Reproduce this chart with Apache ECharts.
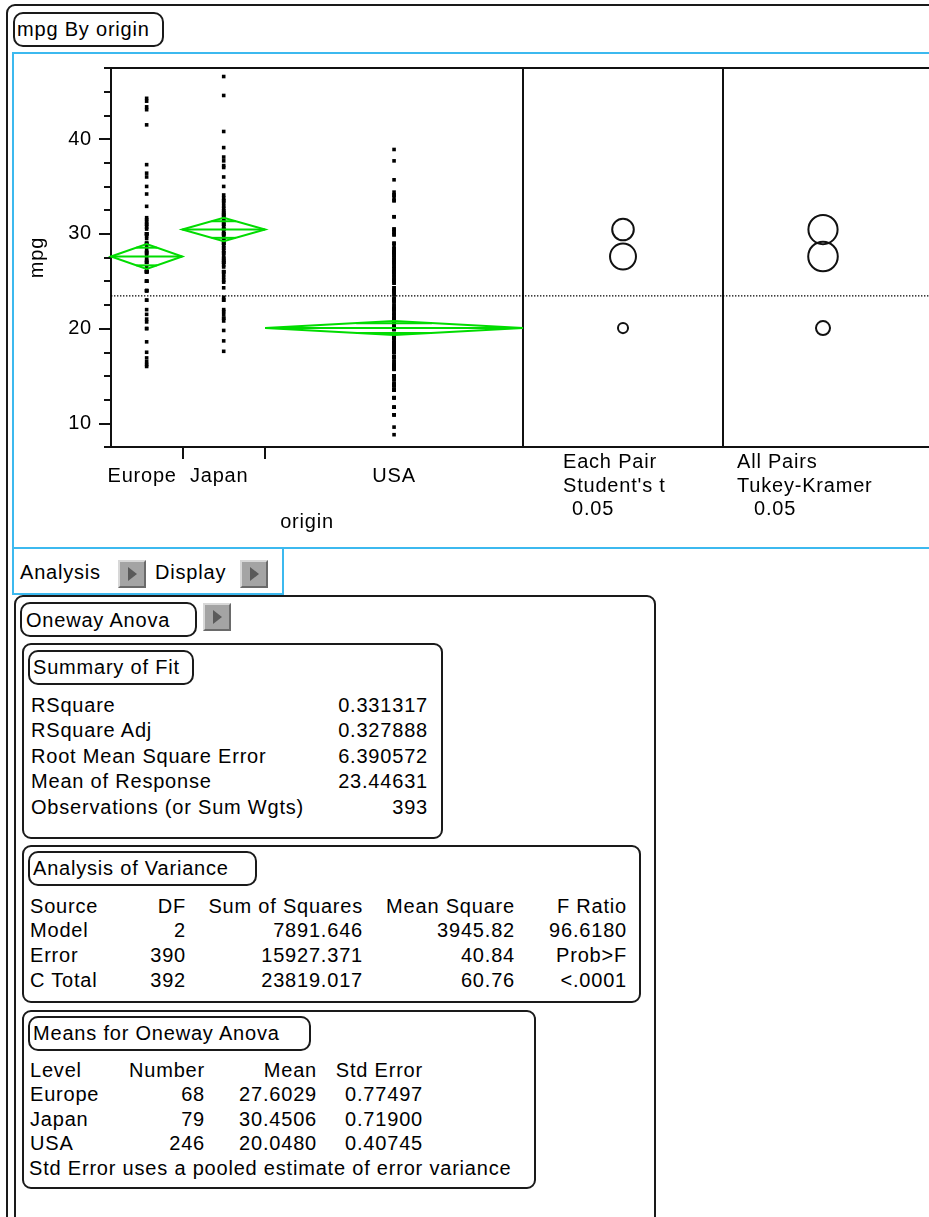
<!DOCTYPE html>
<html>
<head>
<meta charset="utf-8">
<title>mpg By origin</title>
<script src="https://cdn.jsdelivr.net/npm/echarts@6.0.0/dist/echarts.min.js"></script>
<style>
html,body{margin:0;padding:0;background:#fff;}
body{width:929px;height:1217px;overflow:hidden;position:relative;font-family:"Liberation Sans",Arial,sans-serif;font-size:20px;letter-spacing:0.8px;color:#000;}
.frame{position:absolute;box-sizing:border-box;border:2px solid #1a1a1a;border-radius:9px;}
.pill{position:absolute;box-sizing:border-box;border:2px solid #1a1a1a;border-radius:10px;}
.blue{position:absolute;box-sizing:border-box;border:2px solid #3cb9ef;}
.t{position:absolute;white-space:nowrap;line-height:28px;height:28px;}
.btn{position:absolute;box-sizing:border-box;width:28px;height:28px;background:#a4a4a4;border-top:2px solid #d8d8d8;border-left:2px solid #d8d8d8;border-right:2px solid #6a6a6a;border-bottom:2px solid #6a6a6a;}
.btn::after{content:"";position:absolute;left:8px;top:5px;border-left:9px solid #5a5a5a;border-top:7px solid transparent;border-bottom:7px solid transparent;}
#chart{position:absolute;left:0;top:0;width:945px;height:545px;}
</style>
</head>
<body>
<div class="frame" style="left:6px;top:4px;width:980px;height:1280px;"></div>
<div class="pill" style="left:13px;top:12px;width:151px;height:35px;"></div>
<div class="blue" style="left:12px;top:52px;width:960px;height:497px;"></div>
<div class="blue" style="left:12px;top:547px;width:272px;height:48px;"></div>
<div class="btn" style="left:118px;top:560px;"></div>
<div class="btn" style="left:240px;top:560px;"></div>
<div class="frame" style="left:14px;top:595px;width:642px;height:700px;"></div>
<div class="pill" style="left:20px;top:602px;width:177px;height:35px;"></div>
<div class="btn" style="left:203px;top:603px;"></div>
<div class="frame" style="left:22px;top:643px;width:421px;height:196px;"></div>
<div class="pill" style="left:28px;top:650px;width:166px;height:35px;"></div>
<div class="frame" style="left:22px;top:845px;width:619px;height:158px;"></div>
<div class="pill" style="left:28px;top:851px;width:229px;height:35px;"></div>
<div class="frame" style="left:22px;top:1010px;width:514px;height:179px;"></div>
<div class="pill" style="left:28px;top:1016px;width:283px;height:35px;"></div>
<div id="report"></div>
<div id="chart"></div>
<script>
// ---------------- data ----------------
const categories = ['Europe', 'Japan', 'USA'];
const groupN = [68, 79, 246];
const groupMean = [27.6029, 30.4506, 20.0480];
const diamondHalf = [1.32, 1.24, 0.74];
const studentRadius = [1.37, 1.14, 0.53];
const tukeyRadius = [1.56, 1.54, 0.74];
const grandMean = 23.44631;
const yMajorTicks = [10, 20, 30, 40];

const europeMpg = [44.3, 44.0, 43.4, 43.1, 41.5, 37.3, 36.4, 36.0, 35.0, 34.2,
  32.9, 31.7, 31.5, 31.3, 31.0, 30.7, 30.5, 30.0, 30.0, 29.8,
  29.5, 29.0, 29.0, 28.8, 28.4, 28.1, 28.0, 27.7, 27.4, 27.2,
  27.0, 26.5, 26.2, 26.0, 26.0, 26.0, 25.0, 25.0, 24.0, 24.0,
  23.0, 23.0, 22.0, 21.5, 21.0, 20.7, 20.0, 20.0, 18.6, 17.5,
  16.9, 16.5, 16.2, 16.0, 26.0, 26.0, 25.0, 24.0, 29.0, 30.0,
  31.0, 28.0, 27.0, 27.0, 26.0, 30.0, 24.0, 25.0];

const japanMpg = [46.6, 44.6, 40.8, 39.1, 38.1, 37.7, 37.2, 37.0, 36.0, 35.0,
  34.1, 33.8, 33.5, 33.2, 32.9, 32.7, 32.4, 32.2, 32.0, 31.8,
  31.5, 31.3, 31.0, 30.7, 30.5, 30.2, 30.0, 29.8, 29.5, 29.3,
  29.0, 28.8, 28.5, 28.2, 28.0, 27.7, 27.4, 27.2, 27.0, 26.7,
  26.5, 26.0, 25.7, 25.4, 25.1, 24.9, 24.3, 23.3, 23.0, 22.0,
  21.8, 21.5, 21.1, 20.8, 19.8, 18.7, 17.6, 32.0, 31.0, 30.0,
  29.0, 28.0, 27.0, 26.0, 32.0, 31.0, 30.0, 29.0, 27.0, 33.5,
  32.4, 31.6, 30.5, 29.5, 28.5, 27.4, 26.0, 23.0, 21.1];

const usaMpg = [38.9, 37.7, 35.7, 34.4, 34.1, 33.8, 33.5, 31.8, 30.5, 30.2,
  29.9, 29.0, 28.7, 28.4, 28.1, 27.8, 27.5, 27.2, 26.9, 26.6,
  26.3, 26.0, 25.7, 25.4, 25.1, 24.8, 24.3, 24.0, 23.9, 23.6,
  23.2, 23.0, 22.8, 22.4, 22.1, 22.0, 21.6, 21.4, 21.1, 21.0,
  20.8, 20.5, 20.2, 20.0, 19.9, 19.4, 19.2, 19.1, 19.0, 18.6,
  18.5, 18.2, 18.1, 18.0, 17.7, 17.6, 17.5, 17.1, 17.0, 16.9,
  16.5, 16.2, 16.0, 15.8, 15.7, 15.0, 14.6, 14.2, 14.0, 13.5,
  12.7, 11.7, 10.9, 9.6, 8.8, 18.0, 18.0, 18.0, 18.0, 18.0,
  19.0, 19.0, 19.0, 19.0, 20.0, 20.0, 20.0, 20.0, 20.0, 21.0,
  21.0, 21.0, 22.0, 22.0, 22.0, 23.0, 23.0, 24.0, 24.0, 25.0,
  25.0, 26.0, 26.0, 27.0, 27.0, 28.0, 28.0, 29.0, 17.0, 17.0,
  16.0, 16.0, 16.0, 16.0, 15.0, 15.0, 15.0, 15.0, 15.0, 14.0,
  14.0, 14.0, 14.0, 14.0, 13.5, 13.5, 13.5, 13.5, 13.5, 12.7,
  12.7, 12.7, 11.7, 11.7, 10.9, 10.9, 14.6, 14.2, 15.8, 16.5,
  18.5, 18.1, 18.2, 19.2, 19.4, 17.5, 17.6, 18.6, 20.2, 20.5,
  22.4, 21.6, 22.8, 23.2, 23.6, 24.3, 25.4, 26.6, 27.2, 27.5,
  28.1, 26.0, 25.1, 24.0, 23.0, 22.0, 21.0, 20.0, 19.0, 18.0,
  17.0, 16.0, 15.0, 14.0, 13.5, 18.0, 19.0, 20.0, 18.0, 19.0,
  20.0, 21.0, 22.0, 17.0, 16.0, 15.0, 14.0, 18.5, 19.2, 17.5,
  16.2, 15.7, 16.9, 17.7, 18.2, 19.9, 20.8, 21.4, 22.1, 23.9,
  24.8, 25.7, 26.3, 27.8, 28.4, 29.9, 30.2, 30.5, 31.8, 33.5,
  34.1, 18.0, 19.0, 20.0, 21.0, 16.0, 15.0, 14.0, 13.5, 17.0,
  18.0, 19.0, 20.0, 16.0, 15.0, 14.0, 13.5, 18.0, 15.0, 14.0,
  13.5, 13.5, 14.0, 15.0, 16.0, 17.0, 18.0, 19.0, 20.0, 21.0,
  22.0, 23.0, 24.0, 25.0, 26.0, 18.0];

const groupValues = [europeMpg, japanMpg, usaMpg];

const panelLabels = [['Each Pair', "Student's t", '0.05'], ['All Pairs', 'Tukey-Kramer', '0.05']];

const titleText = 'mpg By origin';
const summaryTitle = 'Summary of Fit';
const summaryLabels = ['RSquare', 'RSquare Adj', 'Root Mean Square Error', 'Mean of Response', 'Observations (or Sum Wgts)'];
const summaryValues = ['0.331317', '0.327888', '6.390572', '23.44631', '393'];
const anovaTitle = 'Analysis of Variance';
const anovaHeader = ['Source', 'DF', 'Sum of Squares', 'Mean Square', 'F Ratio'];
const anovaRows = [
  ['Model', '2', '7891.646', '3945.82', '96.6180'],
  ['Error', '390', '15927.371', '40.84', 'Prob>F'],
  ['C Total', '392', '23819.017', '60.76', '<.0001']
];
const meansTitle = 'Means for Oneway Anova';
const meansHeader = ['Level', 'Number', 'Mean', 'Std Error'];
const meansRows = [
  ['Europe', '68', '27.6029', '0.77497'],
  ['Japan', '79', '30.4506', '0.71900'],
  ['USA', '246', '20.0480', '0.40745']
];
const meansNote = 'Std Error uses a pooled estimate of error variance';

// ---------------- report text (HTML) ----------------
const rep = document.getElementById('report');
function addText(txt, x, cy, right) {
  const d = document.createElement('div');
  d.className = 't';
  d.textContent = txt;
  d.style.top = (cy - 14) + 'px';
  if (right) { d.style.left = (x - 400) + 'px'; d.style.width = '400px'; d.style.textAlign = 'right'; }
  else d.style.left = x + 'px';
  rep.appendChild(d);
}
addText(titleText, 17, 29);
addText('Analysis', 20, 572);
addText('Display', 155, 572);
addText('Oneway Anova', 26, 620);
addText(summaryTitle, 33, 667);
const sumY = [705, 730, 756, 781, 807];
summaryLabels.forEach((s, i) => { addText(s, 31, sumY[i]); addText(summaryValues[i], 428, sumY[i], true); });
addText(anovaTitle, 33, 868);
const anovaRight = [186, 363, 515, 627];
const anovaY = [906, 930, 955, 980];
[anovaHeader].concat(anovaRows).forEach((row, r) => {
  addText(row[0], 30, anovaY[r]);
  for (let c = 1; c < row.length; c++) addText(row[c], anovaRight[c - 1], anovaY[r], true);
});
addText(meansTitle, 33, 1033);
const meansRight = [205, 317, 423];
const meansY = [1070, 1094, 1119, 1143];
[meansHeader].concat(meansRows).forEach((row, r) => {
  addText(row[0], 30, meansY[r]);
  for (let c = 1; c < row.length; c++) addText(row[c], meansRight[c - 1], meansY[r], true);
});
addText(meansNote, 29, 1168);

// ---------------- chart ----------------
const FONT = '"Liberation Sans", Arial, sans-serif';
const totalN = groupN.reduce((a, b) => a + b, 0);
const starts = [], ends = [], mids = [];
let acc = 0;
groupN.forEach(n => { starts.push(acc); mids.push(acc + n / 2); acc += n; ends.push(acc); });
const yMin = 7.5, yMax = 47.5, yStep = 2.5;
const GREEN = '#00dc00';
const INK = '#111';

function diamondItem(params, api) {
  const x0 = api.value(0), x1 = api.value(1), m = api.value(2), h = api.value(3);
  const xm = (x0 + x1) / 2;
  const L = api.coord([x0, m]), R = api.coord([x1, m]);
  const T = api.coord([xm, m + h]), B = api.coord([xm, m - h]);
  const k = Math.SQRT1_2;
  const dy = (B[1] - T[1]) / 2 * k;
  const hw = (R[0] - L[0]) / 2 * (1 - k);
  const cx = T[0], cy = L[1];
  const st = { stroke: GREEN, lineWidth: 2, fill: 'none' };
  return {
    type: 'group', children: [
      { type: 'polygon', shape: { points: [L, T, R, B] }, style: st },
      { type: 'line', shape: { x1: L[0], y1: cy, x2: R[0], y2: cy }, style: st },
      { type: 'line', shape: { x1: cx - hw, y1: cy - dy, x2: cx + hw, y2: cy - dy }, style: st },
      { type: 'line', shape: { x1: cx - hw, y1: cy + dy, x2: cx + hw, y2: cy + dy }, style: st }
    ]
  };
}
function circleItem(params, api) {
  const c = api.coord([api.value(0), api.value(1)]);
  const r = api.size([0, api.value(2)])[1];
  return { type: 'circle', shape: { cx: c[0], cy: c[1], r: r }, style: { stroke: INK, lineWidth: 2, fill: 'none' } };
}

const yHidden = (g) => ({ gridIndex: g, type: 'value', min: yMin, max: yMax, interval: yStep, show: false });
const lbl = { fontFamily: FONT, fontSize: 20, color: '#000' };

const graphics = [];
[[563, 572], [737, 754]].forEach((xs, p) => {
  panelLabels[p].forEach((t, i) => {
    graphics.push({ type: 'text', x: i === 2 ? xs[1] : xs[0], y: [462, 486, 509][i],
      style: { text: t, fontFamily: FONT, fontSize: 20, fill: '#000', verticalAlign: 'middle' } });
  });
});

const option = {
  animation: false,
  backgroundColor: 'transparent',
  textStyle: { fontFamily: FONT, fontSize: 20, color: '#000' },
  grid: [
    { left: 111, top: 68, width: 412, height: 379, outerBoundsMode: 'none' },
    { left: 523, top: 68, width: 200, height: 379, outerBoundsMode: 'none' },
    { left: 723, top: 68, width: 200, height: 379, outerBoundsMode: 'none' },
    { left: 111, top: 68, width: 830, height: 379, show: true, borderColor: INK, borderWidth: 2, backgroundColor: 'transparent', outerBoundsMode: 'none' }
  ],
  xAxis: [
    {
      gridIndex: 0, type: 'value', min: 0, max: totalN,
      axisLine: { show: true, lineStyle: { color: INK, width: 2 } },
      axisTick: { show: true, length: 12, customValues: ends.slice(0, -1), lineStyle: { color: INK, width: 2 } },
      axisLabel: {
        customValues: mids, margin: 19, ...lbl,
        formatter: v => { const i = mids.indexOf(v); return i < 0 ? '' : (i < 2 ? '{s|' + categories[i] + '}' : categories[i]); },
        rich: { s: { ...lbl, padding: [0, 9, 0, 0] } }
      },
      splitLine: { show: false },
      name: 'origin', nameLocation: 'middle', nameGap: 65, nameMoveOverlap: false,
      nameTextStyle: { ...lbl, padding: [0, 20, 0, 0] }
    },
    { gridIndex: 1, type: 'value', min: 0, max: 1, show: false },
    { gridIndex: 2, type: 'value', min: 0, max: 1, show: false },
    { gridIndex: 3, type: 'value', min: 0, max: 1, show: false }
  ],
  yAxis: [
    {
      gridIndex: 0, type: 'value', min: yMin, max: yMax, interval: yStep, position: 'left', offset: 0,
      axisLine: { show: true, lineStyle: { color: INK, width: 2 } },
      axisTick: { show: true, length: 7, lineStyle: { color: INK, width: 2 } },
      axisLabel: { customValues: yMajorTicks, margin: 19, ...lbl },
      splitLine: { show: false },
      name: 'mpg', nameLocation: 'middle', nameGap: 64, nameRotate: 90, nameMoveOverlap: false,
      nameTextStyle: lbl
    },
    {
      gridIndex: 0, type: 'value', min: yMin, max: yMax, interval: yStep, position: 'left', offset: 0,
      axisLine: { show: false },
      axisTick: { show: true, length: 12, customValues: yMajorTicks, lineStyle: { color: INK, width: 2 } },
      axisLabel: { show: false }, splitLine: { show: false }
    },
    {
      gridIndex: 1, type: 'value', min: yMin, max: yMax, interval: yStep, position: 'left',
      axisLine: { show: true, lineStyle: { color: INK, width: 2 } },
      axisTick: { show: false }, axisLabel: { show: false }, splitLine: { show: false }
    },
    {
      gridIndex: 2, type: 'value', min: yMin, max: yMax, interval: yStep, position: 'left',
      axisLine: { show: true, lineStyle: { color: INK, width: 2 } },
      axisTick: { show: false }, axisLabel: { show: false }, splitLine: { show: false }
    },
    yHidden(3)
  ],
  graphic: graphics,
  series: [
    {
      type: 'line', xAxisIndex: 3, yAxisIndex: 4, silent: true, z: 1,
      data: [[0, grandMean], [1, grandMean]], symbol: 'none',
      lineStyle: { color: '#000', width: 1.4, type: [1.4, 1.6] }
    }
  ].concat(groupValues.map((vals, g) => ({
    type: 'scatter', xAxisIndex: 0, yAxisIndex: 0, silent: true, z: 2,
    symbol: 'rect', symbolSize: 3.6, itemStyle: { color: '#000', opacity: 1 },
    data: vals.map(v => [mids[g], v])
  }))).concat([
    {
      type: 'custom', xAxisIndex: 0, yAxisIndex: 0, silent: true, z: 3,
      renderItem: diamondItem,
      data: groupN.map((n, g) => [starts[g], ends[g], groupMean[g], diamondHalf[g]])
    },
    {
      type: 'custom', xAxisIndex: 1, yAxisIndex: 2, silent: true, z: 3,
      renderItem: circleItem,
      data: groupMean.map((m, g) => [0.5, m, studentRadius[g]])
    },
    {
      type: 'custom', xAxisIndex: 2, yAxisIndex: 3, silent: true, z: 3,
      renderItem: circleItem,
      data: groupMean.map((m, g) => [0.5, m, tukeyRadius[g]])
    }
  ])
};

const chart = echarts.init(document.getElementById('chart'), null, { renderer: 'canvas' });
chart.setOption(option);
</script>
</body>
</html>
